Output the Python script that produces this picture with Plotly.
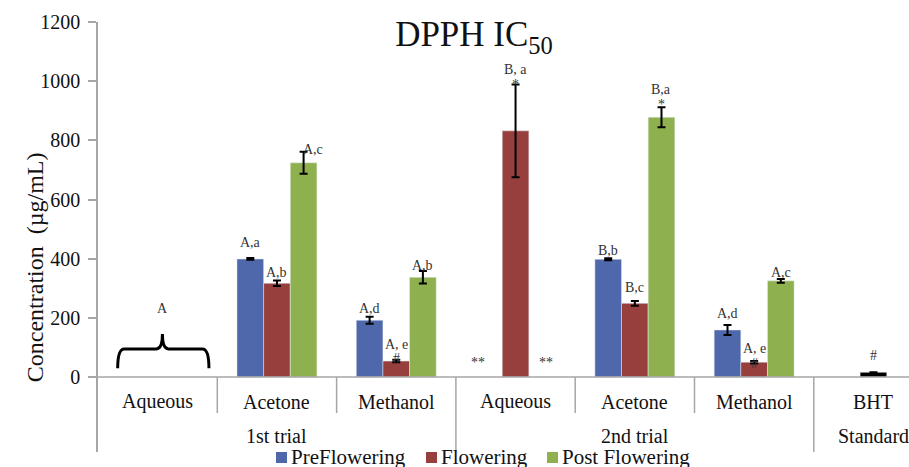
import plotly.graph_objects as go

# ---------------- data ----------------
categories = ["Aqueous", "Acetone", "Methanol", "Aqueous", "Acetone", "Methanol", "BHT"]
groups = ["1st trial", "2nd trial", "Standard"]
group_members = [[0, 1, 2], [3, 4, 5], [6]]

pre_flowering = [None, 399, 192, None, 398, 159, None]
pre_err = [0, 3, 12, 0, 3, 17, 0]
flowering = [None, 317, 54, 832, 249, 50, None]
flowering_err = [0, 9, 4, 157, 8, 4, 0]
post_flowering = [None, 724, 337, None, 878, 325, None]
post_err = [0, 37, 21, 0, 34, 6, 0]
bht_standard = [None, None, None, None, None, None, 16]
bht_err = [0, 0, 0, 0, 0, 0, 0]

y_ticks = [0, 200, 400, 600, 800, 1000, 1200]
series_names = ["PreFlowering", "Flowering", "Post Flowering"]

# significance labels: (category, series, text)
sig_labels = [
    (1, "pre", "A,a"), (1, "flow", "A,b"), (1, "post", "A,c"),
    (2, "pre", "A,d"), (2, "flow", "A, e"), (2, "flow", "#"), (2, "post", "A,b"),
    (3, "flow", "B, a"), (3, "flow", "*"),
    (4, "pre", "B,b"), (4, "flow", "B,c"), (4, "post", "B,a"), (4, "post", "*"),
    (5, "pre", "A,d"), (5, "flow", "A, e"), (5, "flow", "#"), (5, "post", "A,c"),
    (6, "bht", "#"),
]
# pixel offsets (style) for the labels above each error bar top
label_yshift = [16, 8, 2, 8, 15, 1, 6, 15, 0, 8, 13, 18, 3, 11, 13, -2, 7, 17]
label_xshift = [0, 0, 9, 0, 0, 0, 0, 0, 0, 0, 0, 0, 0, 0, 0, 0, 0, 0]

# ---------------- style ----------------
FONT = "Liberation Serif, Times New Roman, serif"
C_PRE = "#4f67ab"
C_FLOW = "#963f3d"
C_POST = "#8eb04e"
AXIS_GRAY = "#a6a6a6"
TXT = "#111"

x = list(range(len(categories)))
BARGAP = 0.33
slot = (1 - BARGAP) / 3
offsets = {"pre": -slot, "flow": 0.0, "post": slot, "bht": 0.0}
series_vals = {"pre": (pre_flowering, pre_err), "flow": (flowering, flowering_err),
               "post": (post_flowering, post_err), "bht": (bht_standard, bht_err)}

err_style = dict(type="data", visible=True, color="black", thickness=2, width=4)

fig = go.Figure()
fig.add_trace(go.Bar(x=x, y=pre_flowering, name=series_names[0], marker_color=C_PRE,
                     offsetgroup="a", error_y=dict(array=pre_err, **err_style)))
fig.add_trace(go.Bar(x=x, y=flowering, name=series_names[1], marker_color=C_FLOW,
                     offsetgroup="b", error_y=dict(array=flowering_err, **err_style)))
fig.add_trace(go.Bar(x=x, y=post_flowering, name=series_names[2], marker_color=C_POST,
                     offsetgroup="c", error_y=dict(array=post_err, **err_style)))
fig.add_trace(go.Bar(x=x, y=bht_standard, name="BHT", marker_color="black",
                     offsetgroup="b", error_y=dict(array=bht_err, **err_style)))

annotations = []
for (ci, s, txt), ys, xs in zip(sig_labels, label_yshift, label_xshift):
    vals, errs = series_vals[s]
    top = vals[ci] + errs[ci]
    annotations.append(dict(x=ci + offsets[s], y=top, xref="x", yref="y", text=txt,
                            showarrow=False, yanchor="middle", yshift=ys, xshift=xs,
                            font=dict(family=FONT, size=14, color="#333")))

# "**" markers for missing bars in 2nd trial aqueous
for s, dx in (("pre", -11), ("post", 4)):
    annotations.append(dict(x=3 + offsets[s], y=0, xref="x", yref="y", text="**",
                            showarrow=False, yanchor="middle", yshift=15, xshift=dx,
                            font=dict(family=FONT, size=14, color="#333")))

# "A" above the brace (1st trial aqueous)
annotations.append(dict(x=0.04, y=233, xref="x", yref="y", text="A", showarrow=False,
                        font=dict(family=FONT, size=14, color="#333")))

# category labels
for i, c in enumerate(categories):
    annotations.append(dict(x=i, y=-83, xref="x", yref="y", text=c, showarrow=False,
                            yanchor="middle", font=dict(family=FONT, size=20, color=TXT)))
# group labels
for g, members in zip(groups, group_members):
    annotations.append(dict(x=(members[0] + members[-1]) / 2, y=-200, xref="x", yref="y",
                            text=g, showarrow=False, yanchor="middle",
                            font=dict(family=FONT, size=20, color=TXT)))

# y-axis title
annotations.append(dict(x=-0.096, y=0.43, xref="paper", yref="paper",
                        text="Concentration  (µg/mL)", textangle=-90, showarrow=False,
                        font=dict(family=FONT, size=24, color=TXT)))

shapes = []
# separators under the axis
for b in range(len(categories) - 1):
    boundary = b + 0.5
    is_group_edge = any(boundary == m[-1] + 0.5 for m in group_members[:-1])
    shapes.append(dict(type="line", xref="x", yref="y", x0=boundary, x1=boundary,
                       y0=0, y1=-253.5 if is_group_edge else -122,
                       line=dict(color=AXIS_GRAY, width=1.5)))
# baseline
shapes.append(dict(type="line", xref="paper", yref="y", x0=-0.01, x1=1, y0=0, y1=0,
                   line=dict(color=AXIS_GRAY, width=1.5)))
# brace
shapes.append(dict(type="path", xref="x", yref="y",
                   path="M -0.335,30 Q -0.335,95 -0.28,95 L -0.01,95 Q 0.04,95 0.04,145 "
                        "Q 0.04,95 0.09,95 L 0.375,95 Q 0.43,95 0.43,30",
                   line=dict(color="black", width=3)))

# legend (drawn as in the original: small square swatches tight to the text)
PLOT_L, PLOT_W, PLOT_B, PLOT_H = 98, 811, 452, 430
def px_x(p):
    return (p - PLOT_L) / PLOT_W
def px_y(p):
    return (PLOT_B - p) / PLOT_H
legend_swatch_px = [(276, 287), (426, 437), (547, 558)]
legend_text_px = [289, 439, 560]
for name, col, (sx0, sx1), tx in zip(series_names, [C_PRE, C_FLOW, C_POST],
                                     legend_swatch_px, legend_text_px):
    shapes.append(dict(type="rect", xref="paper", yref="paper",
                       x0=px_x(sx0), x1=px_x(sx1), y0=px_y(463), y1=px_y(452),
                       fillcolor=col, line=dict(width=0)))
    annotations.append(dict(x=px_x(tx), y=px_y(457), xref="paper", yref="paper",
                            text=name, showarrow=False, xanchor="left", yanchor="middle",
                            font=dict(family=FONT, size=21, color=TXT)))

fig.update_layout(
    width=909, height=467,
    margin=dict(l=PLOT_L, r=0, t=22, b=15, autoexpand=False),
    paper_bgcolor="white", plot_bgcolor="white",
    barmode="group", bargap=BARGAP, bargroupgap=0,
    title=dict(text="DPPH IC<sub>50</sub>", x=474 / 909, xanchor="center",
               y=1 - 34 / 467, yanchor="middle",
               font=dict(family=FONT, size=35, color=TXT)),
    xaxis=dict(range=[-0.5, -0.5 + 811 / 119.3], showticklabels=False, showgrid=False,
               zeroline=False, showline=False, ticks=""),
    yaxis=dict(range=[-253.5, 1200], tickvals=y_ticks, showgrid=False, zeroline=False,
               showline=True, linecolor=AXIS_GRAY, linewidth=1.5,
               ticks="outside", ticklen=8, tickcolor=AXIS_GRAY, tickwidth=1.5,
               ticklabelstandoff=4,
               tickfont=dict(family=FONT, size=20, color=TXT)),
    annotations=annotations, shapes=shapes,
    showlegend=False,
)

fig.write_html("out.html")
